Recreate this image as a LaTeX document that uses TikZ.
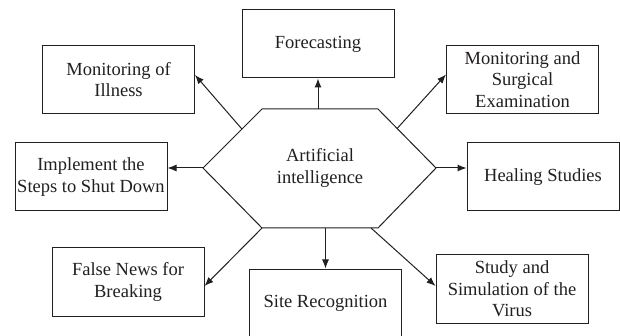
\documentclass[tikz,border=0pt]{standalone}
\usepackage{fontspec}
\setmainfont{Liberation Serif}
\usetikzlibrary{arrows.meta,calc}
\definecolor{ink}{HTML}{231F20}
\begin{document}
\begin{tikzpicture}[x=1pt,y=-1pt,
  box/.style={draw=ink,line width=1pt,minimum width=152pt,minimum height=68pt,
    align=center,inner sep=0pt,text=ink,font=\fontsize{18.5}{21.5}\selectfont},
  conn/.style={draw=ink,line width=1pt,-{Latex[length=9pt,width=7pt]}},
  hex/.style={draw=ink,line width=1pt}]
\clip (0,0) rectangle (620,336);
\fill[white] (0,0) rectangle (620,336);
% hexagon
\coordinate (L) at (203,168);
\coordinate (TL) at (262,109);
\coordinate (TR) at (378,109);
\coordinate (R) at (436,168);
\coordinate (BR) at (378,228);
\coordinate (BL) at (262,228);
\draw[hex] (L) -- (TL) -- (TR) -- (R) -- (BR) -- (BL) -- cycle;
\node[align=center,text=ink,font=\fontsize{18.5}{22.5}\selectfont] (ai) at (320,168) {Artificial\\intelligence};
% boxes
\node[box] (moi) at (118.5,79.5) {Monitoring of\\Illness};
\node[box] (fc) at (318,44) {Forecasting};
\node[box] (mse) at (522.5,79.5) {Monitoring and\\Surgical\\Examination};
\node[box] (imp) at (91,177) {Implement the\\Steps to Shut Down};
\node[box] (heal) at (543,177) {Healing Studies};
\node[box] (fn) at (128,282) {False News for\\Breaking};
\node[box] (sr) at (325.5,303) {Site Recognition};
\node[box] (ss) at (512,289) {Study and\\Simulation of the\\Virus};
% connectors
\draw[conn] ($(L)!0.66!(TL)$) -- ($(moi.east)+(0,-4.5)$);
\draw[conn] (fc.south |- TL) -- (fc.south);
\draw[conn] ($(TR)!0.33!(R)$) -- ($(mse.west)+(0,-5)$);
\draw[conn] (L) -- (L -| imp.east);
\draw[conn] (R) -- (R -| heal.west);
\draw[conn] (BL) -- ($(fn.east)+(0,4)$);
\draw[conn] (sr.north |- BL) -- (sr.north);
\draw[conn] ($(BL)!0.94!(BR)$) -- ($(ss.west)+(0,-3)$);
\end{tikzpicture}
\end{document}
